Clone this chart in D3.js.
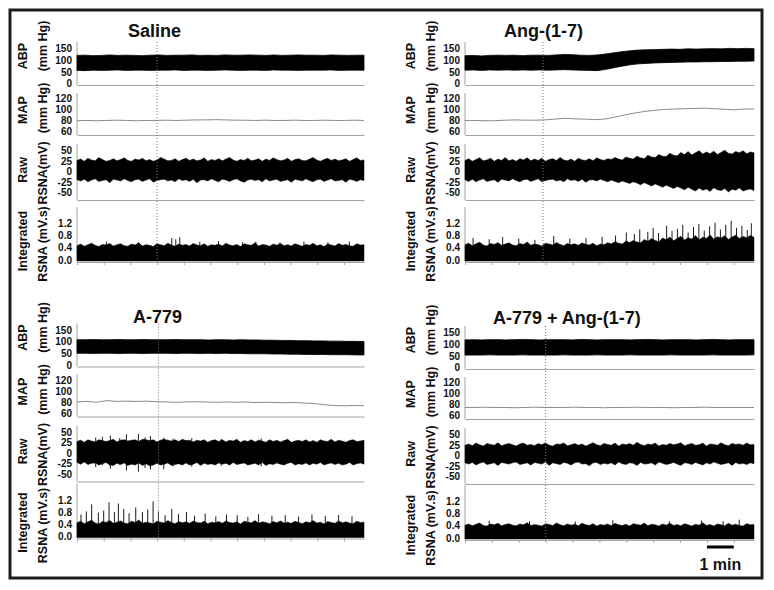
<!DOCTYPE html>
<html>
<head>
<meta charset="utf-8">
<script src="https://cdn.jsdelivr.net/npm/d3@7"></script>
<style>
  body { margin: 0; background: #fff; }
  text { font-family: "Liberation Sans", Arial, sans-serif; font-weight: bold; fill: #111; }
</style>
</head>
<body>
<svg id="fig" width="774" height="590"></svg>
<script>
// ---- data ----
// every trace is sampled evenly over the shown record length (minutes)
var recordMinutes = 10.75;
var panelTitles = ["Saline", "Ang-(1-7)", "A-779", "A-779 + Ang-(1-7)"];
var injectTimes = [3.0, 2.9, 3.05, 3.0];

var abpTicks = [0, 50, 100, 150];
var mapTicks = [60, 80, 100, 120];
var rawTicks = [-50, -25, 0, 25, 50];
var intTicks = [0.0, 0.4, 0.8, 1.2];

// ABP envelope: systolic (hi) and diastolic (lo), mm Hg
var salineAbpHi = [120,121,119,120,122,120,121,120,119,121,122,120,121,121,122,120,121,120,122,121,121,122,121,120,122,120,121,122,121,121,120,122,121,120,121,121];
var salineAbpLo = [56,55,57,56,57,58,56,57,57,56,57,57,58,56,57,57,56,57,58,57,56,57,57,56,58,57,57,56,57,57,57,58,56,57,57,57];
var angAbpHi = [119,120,118,120,121,120,121,119,121,121,120,122,124,123,121,120,122,126,131,136,140,143,144,145,146,147,146,148,147,148,149,148,150,149,150,149];
var angAbpLo = [57,58,56,58,57,58,57,58,57,58,57,58,59,58,57,56,55,60,67,74,80,84,86,88,89,90,91,92,92,93,93,94,94,95,95,96];
var a779AbpHi = [108,108,109,108,108,109,108,108,109,108,108,108,109,108,108,108,107,108,108,107,108,107,107,106,106,105,105,104,104,103,103,102,102,101,101,100];
var a779AbpLo = [50,50,49,50,50,49,50,50,49,50,50,50,49,50,50,49,50,49,50,49,49,48,48,48,47,47,46,46,45,45,45,44,44,44,43,43];
var comboAbpHi = [118,119,118,119,119,118,119,120,119,118,119,119,119,118,120,119,118,119,119,119,118,119,120,119,118,119,119,119,118,119,120,119,118,119,119,119];
var comboAbpLo = [53,53,53,54,53,53,53,54,53,53,53,53,54,53,53,53,54,53,53,53,54,53,53,53,53,54,53,53,53,53,54,53,53,53,53,54];

// MAP, mm Hg
var salineMap = [79.5,80,79.5,80,80.5,80,79.5,80,80,80.5,80,80.5,81,81,81.5,81,80.5,80.5,80,80.5,80,80,80.5,80,80,80.5,80,80,80.5,80];
var angMap = [80,80,79.5,79.5,80.5,81,80.5,80.5,81,82.5,84,83,82.5,81.5,82.5,86,90,93.5,96.5,98.5,100,101,101.5,102,102.5,101.5,100.5,99.5,101,101];
var a779Map = [80,81,79.5,82.5,81,81.5,81,81.5,80.5,80,79.5,80,80.5,80,79.5,80,79.5,80,79,79.5,79,78.5,79,78,77,75,73.5,73,73.5,73];
var comboMap = [74.5,74.5,75,74.5,74.5,74,74.5,75,74.5,74.5,74.5,75,74.5,74.5,74,74.5,74.5,75,74.5,74.5,74.5,74,74.5,74.5,75,74.5,74.5,74.5,74.5,74.5];

// raw RSNA envelope, mV
var salineRawHi = [26,29,24,31,27,25,33,28,24,26,30,25,28,32,26,24,29,27,31,25,28,24,27,33,29,25,26,30,24,28,31,26,29,25,27,32,24,28,26,30,25,29,33,27,24,28,26,31,25,27,30,24,29,26,32,28,25,27,31,24,28,30,26,25,29,33,27,24,28,31,26,29,25,27,30,24,28,32,26,27];
var salineRawLo = [-20,-23,-19,-25,-21,-18,-24,-22,-20,-27,-19,-21,-23,-18,-22,-25,-20,-19,-24,-21,-18,-26,-22,-20,-19,-23,-21,-25,-18,-22,-20,-24,-19,-27,-21,-20,-23,-18,-22,-25,-19,-21,-24,-20,-18,-23,-26,-21,-19,-22,-20,-25,-18,-23,-21,-19,-24,-22,-20,-26,-19,-21,-23,-18,-22,-25,-20,-19,-24,-21,-18,-23,-22,-20,-26,-19,-21,-24,-20,-22];
var angRawHi = [26,30,24,28,32,25,27,31,24,29,26,33,25,28,24,30,27,32,25,29,26,31,24,28,30,26,33,27,25,29,24,31,27,26,30,25,32,28,26,30,28,33,29,27,34,31,29,36,32,30,38,34,33,40,36,35,43,38,37,45,40,47,39,44,49,41,46,42,48,40,45,50,43,41,47,44,49,42,46,44];
var angRawLo = [-20,-24,-19,-25,-21,-18,-24,-22,-20,-26,-19,-21,-23,-18,-22,-25,-20,-19,-24,-21,-18,-25,-22,-20,-19,-23,-21,-25,-18,-22,-20,-24,-19,-26,-21,-20,-23,-19,-22,-25,-21,-24,-27,-23,-26,-29,-25,-28,-32,-27,-31,-35,-30,-34,-38,-33,-37,-41,-36,-40,-44,-38,-43,-47,-40,-45,-42,-48,-39,-44,-46,-41,-49,-43,-45,-40,-47,-44,-42,-46];
var a779RawHi = [27,30,25,31,28,26,31,29,27,29,32,26,30,31,28,30,31,27,32,31,29,31,26,30,32,30,28,31,27,32,29,30,26,30,28,31,25,29,31,27,31,26,30,28,32,25,29,27,31,26,30,28,25,31,27,30,26,29,32,25,28,30,27,31,26,29,25,31,28,27,32,26,30,28,25,29,31,27,28,30];
var a779RawLo = [-23,-27,-22,-28,-25,-24,-29,-26,-23,-29,-30,-25,-28,-24,-30,-27,-29,-24,-30,-26,-31,-29,-25,-29,-27,-24,-30,-28,-26,-29,-24,-29,-27,-23,-30,-25,-28,-26,-29,-24,-27,-25,-29,-23,-28,-26,-24,-29,-27,-25,-29,-23,-30,-26,-28,-24,-27,-29,-25,-23,-29,-26,-28,-24,-29,-25,-27,-23,-29,-26,-24,-28,-25,-29,-27,-23,-29,-26,-24,-27];
var comboRawHi = [24,27,23,29,25,22,28,26,24,30,23,26,28,25,22,27,29,24,26,23,28,25,30,24,22,27,26,29,23,25,28,24,27,22,26,30,25,23,28,26,24,29,22,27,25,28,24,31,26,23,27,25,29,22,26,24,28,25,27,30,23,26,28,24,25,29,22,27,26,24,30,25,23,28,26,27,24,29,25,26];
var comboRawLo = [-18,-21,-17,-23,-19,-16,-22,-20,-18,-24,-17,-19,-21,-18,-16,-22,-20,-18,-23,-17,-19,-21,-16,-24,-18,-20,-22,-17,-19,-23,-18,-16,-21,-20,-25,-18,-17,-22,-19,-21,-18,-23,-16,-20,-22,-18,-19,-24,-17,-21,-20,-18,-23,-16,-19,-22,-20,-17,-21,-24,-18,-19,-22,-17,-20,-23,-18,-21,-16,-19,-22,-20,-18,-24,-17,-21,-19,-22,-18,-20];

// single tall raw RSNA deflections (time, lowest, highest), mV
var a779RawSpikeT = [0.7, 0.95, 1.25, 1.6, 1.85, 2.3, 2.55, 2.75, 3.25, 3.6, 4.3, 5.4, 6.9];
var a779RawSpikeLo = [-34, -30, -38, -28, -42, -45, -36, -40, -39, -32, -33, -31, -32];
var a779RawSpikeHi = [36, 38, 41, 35, 44, 45, 37, 40, 36, 34, 35, 33, 34];

// integrated RSNA top of trace, mV.s, plus the tall single spikes
var salineInt = [0.47,0.52,0.45,0.50,0.55,0.48,0.44,0.51,0.49,0.54,0.46,0.50,0.53,0.47,0.45,0.52,0.49,0.56,0.46,0.50,0.48,0.44,0.53,0.50,0.47,0.55,0.49,0.45,0.52,0.48,0.51,0.46,0.54,0.49,0.47,0.53,0.45,0.50,0.48,0.52,0.46,0.55,0.49,0.47,0.51,0.44,0.53,0.50,0.48,0.56,0.46,0.51,0.49,0.45,0.52,0.48,0.54,0.47,0.50,0.46,0.53,0.49,0.45,0.51,0.48,0.55,0.47,0.50,0.44,0.52,0.49,0.46,0.54,0.48,0.51,0.47,0.45,0.53,0.49,0.50];
var angInt = [0.50,0.55,0.47,0.53,0.58,0.49,0.46,0.54,0.51,0.57,0.48,0.52,0.56,0.49,0.47,0.54,0.51,0.59,0.48,0.52,0.50,0.46,0.55,0.52,0.49,0.57,0.51,0.47,0.54,0.50,0.53,0.48,0.56,0.51,0.49,0.55,0.47,0.52,0.50,0.56,0.53,0.60,0.55,0.52,0.62,0.57,0.64,0.59,0.56,0.67,0.61,0.70,0.64,0.60,0.72,0.66,0.75,0.63,0.70,0.78,0.65,0.73,0.69,0.80,0.66,0.74,0.71,0.82,0.68,0.76,0.72,0.79,0.67,0.75,0.81,0.70,0.77,0.73,0.80,0.74];
var a779Int = [0.45,0.50,0.42,0.48,0.53,0.44,0.41,0.49,0.46,0.52,0.43,0.47,0.51,0.44,0.42,0.50,0.46,0.54,0.43,0.47,0.45,0.41,0.50,0.47,0.44,0.52,0.46,0.42,0.49,0.45,0.48,0.43,0.51,0.46,0.44,0.50,0.42,0.47,0.45,0.49,0.43,0.51,0.46,0.44,0.48,0.41,0.50,0.47,0.45,0.52,0.43,0.48,0.46,0.42,0.49,0.45,0.51,0.44,0.47,0.43,0.50,0.46,0.42,0.48,0.45,0.52,0.44,0.47,0.41,0.49,0.46,0.43,0.51,0.45,0.48,0.44,0.42,0.50,0.46,0.47];
var comboInt = [0.42,0.46,0.40,0.45,0.49,0.41,0.39,0.46,0.43,0.48,0.40,0.44,0.47,0.42,0.40,0.46,0.43,0.50,0.41,0.44,0.42,0.39,0.47,0.44,0.41,0.49,0.43,0.40,0.46,0.42,0.45,0.40,0.48,0.43,0.41,0.47,0.39,0.44,0.42,0.46,0.40,0.48,0.43,0.41,0.45,0.39,0.47,0.44,0.42,0.49,0.40,0.45,0.43,0.39,0.46,0.42,0.48,0.41,0.44,0.40,0.47,0.43,0.39,0.45,0.42,0.50,0.41,0.44,0.39,0.46,0.43,0.40,0.48,0.42,0.45,0.41,0.39,0.47,0.43,0.44];

var salineSpikeT = [1.1, 2.3, 3.55, 3.7, 3.85, 4.6, 5.3, 6.2, 6.7, 7.6, 8.5, 9.4, 10.2];
var salineSpikeV = [0.6, 0.58, 0.72, 0.68, 0.74, 0.6, 0.62, 0.58, 0.6, 0.57, 0.6, 0.58, 0.6];
var angSpikeT = [0.3, 0.9, 1.4, 2.0, 2.6, 3.3, 3.9, 4.5, 5.1, 5.6, 6.0, 6.3, 6.5, 6.8, 7.0, 7.2, 7.5, 7.7, 7.9, 8.1, 8.3, 8.5, 8.7, 8.9, 9.1, 9.3, 9.5, 9.7, 9.9, 10.1, 10.3, 10.5, 10.65];
var angSpikeV = [0.72, 0.68, 0.75, 0.70, 0.66, 0.78, 0.7, 0.72, 0.76, 0.8, 0.9, 0.85, 1.0, 0.92, 1.05, 0.88, 1.12, 0.95, 1.02, 1.15, 0.9, 1.08, 1.18, 0.96, 1.1, 1.22, 1.0, 1.15, 1.28, 1.05, 1.12, 0.98, 1.2];
var a779SpikeT = [0.15, 0.35, 0.55, 0.8, 1.0, 1.2, 1.4, 1.55, 1.75, 1.95, 2.2, 2.45, 2.65, 2.85, 3.05, 3.3, 3.55, 3.8, 4.1, 4.4, 4.8, 5.2, 5.6, 6.0, 6.4, 6.8, 7.3, 7.8, 8.3, 8.8, 9.3, 9.8, 10.3];
var a779SpikeV = [0.72, 0.82, 1.05, 0.78, 0.85, 1.12, 0.8, 1.08, 0.9, 0.76, 0.95, 0.8, 0.88, 1.15, 0.82, 0.7, 0.9, 0.74, 0.8, 0.68, 0.75, 0.66, 0.72, 0.7, 0.64, 0.73, 0.68, 0.7, 0.65, 0.72, 0.67, 0.7, 0.66];
var comboSpikeT = [0.9, 2.4, 4.1, 5.5, 7.6, 8.8, 9.6, 10.2];
var comboSpikeV = [0.56, 0.55, 0.54, 0.58, 0.55, 0.57, 0.55, 0.6];

// ---- layout ----
var svg = d3.select("#fig");

var panels = [
  { title: panelTitles[0], titleX: 128, titleY: 37, x0: 77, x1: 364, yOff: 0, intShift: 0, inject: injectTimes[0],
    abpHi: salineAbpHi, abpLo: salineAbpLo, map: salineMap, rawHi: salineRawHi, rawLo: salineRawLo, int: salineInt, spikeT: salineSpikeT, spikeV: salineSpikeV },
  { title: panelTitles[1], titleX: 504, titleY: 37, x0: 465, x1: 754, yOff: 0, intShift: 0, inject: injectTimes[1],
    abpHi: angAbpHi, abpLo: angAbpLo, map: angMap, rawHi: angRawHi, rawLo: angRawLo, int: angInt, spikeT: angSpikeT, spikeV: angSpikeV },
  { title: panelTitles[2], titleX: 133, titleY: 323, x0: 77, x1: 364, yOff: 281.5, intShift: -5, inject: injectTimes[2],
    abpHi: a779AbpHi, abpLo: a779AbpLo, map: a779Map, rawHi: a779RawHi, rawLo: a779RawLo, int: a779Int, spikeT: a779SpikeT, spikeV: a779SpikeV,
    rawSpikeT: a779RawSpikeT, rawSpikeLo: a779RawSpikeLo, rawSpikeHi: a779RawSpikeHi },
  { title: panelTitles[3], titleX: 493, titleY: 324, x0: 465, x1: 754, yOff: 284, intShift: -6, inject: injectTimes[3],
    abpHi: comboAbpHi, abpLo: comboAbpLo, map: comboMap, rawHi: comboRawHi, rawLo: comboRawLo, int: comboInt, spikeT: comboSpikeT, spikeV: comboSpikeV,
    scaleBar: true }
];

// vertical placement of the four traces inside a panel (pixels from panel top)
var traces = {
  abp: { domain: [0, 150], range: [83.5, 48.4], top: 42, base: 85, ticks: abpTicks, name: "ABP", unit: "(mm Hg)", nameY: 56, unitY: 46 },
  map: { domain: [60, 120], range: [131.4, 98.6], top: 93, base: 135, ticks: mapTicks, name: "MAP", unit: "(mm Hg)", nameY: 110, unitY: 108 },
  raw: { domain: [-50, 50], range: [192.3, 150.3], top: 144, base: 200, ticks: rawTicks, name: "Raw", unit: "RSNA(mV)", nameY: 170, unitY: 173 },
  int: { domain: [0, 1.2], range: [260, 223.3], top: 207, base: 262, ticks: intTicks, name: "Integrated", unit: "RSNA (mV.s)", nameY: 241, unitY: 244 }
};

svg.append("rect")
  .attr("x", 10).attr("y", 10)
  .attr("width", 752).attr("height", 568)
  .attr("fill", "none").attr("stroke", "#1c1c1c").attr("stroke-width", 3);

panels.forEach(drawPanel);

function timed(values) {
  return values.map(function (v, i) { return { t: i * recordMinutes / (values.length - 1), v: v }; });
}

function band(hi, lo) {
  return hi.map(function (h, i) { return { t: i * recordMinutes / (hi.length - 1), hi: h, lo: lo[i] }; });
}

function drawPanel(p) {
  var g = svg.append("g").attr("transform", "translate(0," + p.yOff + ")");
  var x = d3.scaleLinear().domain([0, recordMinutes]).range([p.x0, p.x1]);

  var scales = {};
  Object.keys(traces).forEach(function (key) {
    var tr = traces[key];
    var shift = key === "int" ? p.intShift : 0;
    var y = d3.scaleLinear().domain(tr.domain).range([tr.range[0] + shift, tr.range[1] + shift]);
    scales[key] = y;

    // left axis line (gray)
    g.append("line")
      .attr("x1", p.x0).attr("x2", p.x0)
      .attr("y1", tr.top + shift).attr("y2", tr.base + shift)
      .attr("stroke", "#a3a3a3").attr("stroke-width", 1);

    // tick labels
    var yAxis = d3.axisLeft(y).tickValues(tr.ticks).tickSize(0).tickPadding(5)
      .tickFormat(key === "int" ? d3.format(".1f") : function (d) { return String(d); });
    var ya = g.append("g").attr("transform", "translate(" + p.x0 + ",0)").call(yAxis);
    ya.select(".domain").remove();
    ya.selectAll("text").attr("font-size", 10).attr("fill", "#111")
      .style("font-family", "'Liberation Sans', Arial, sans-serif").style("font-weight", "bold");

    // baseline (gray), with minute ticks under the integrated trace
    var xAxis = d3.axisBottom(x).tickValues(d3.range(0, 11)).tickSizeOuter(0)
      .tickSizeInner(key === "int" ? 3 : 0).tickFormat("");
    var xa = g.append("g").attr("transform", "translate(0," + (tr.base + shift) + ")").call(xAxis);
    xa.select(".domain").attr("stroke", "#a3a3a3");
    xa.selectAll(".tick line").attr("stroke", "#a3a3a3");

    // rotated trace name and unit
    var lx1 = p.x0 - 55, lx2 = p.x0 - 35;
    g.append("text")
      .attr("transform", "translate(" + lx1 + "," + tr.nameY + ") rotate(-90)")
      .attr("text-anchor", "middle").attr("dy", "0.36em")
      .attr("font-size", 12.5).text(tr.name);
    g.append("text")
      .attr("transform", "translate(" + lx2 + "," + tr.unitY + ") rotate(-90)")
      .attr("text-anchor", "middle").attr("dy", "0.36em")
      .attr("font-size", 12.5).text(tr.unit);
  });

  // ABP band
  g.append("path")
    .datum(band(p.abpHi, p.abpLo))
    .attr("fill", "#000").attr("stroke", "#000").attr("stroke-width", 0.8)
    .attr("d", d3.area()
      .x(function (d) { return x(d.t); })
      .y0(function (d) { return scales.abp(d.lo); })
      .y1(function (d) { return scales.abp(d.hi); }));

  // MAP line
  g.append("path")
    .datum(timed(p.map))
    .attr("fill", "none").attr("stroke", "#8a8a8a").attr("stroke-width", 1)
    .attr("d", d3.line()
      .x(function (d) { return x(d.t); })
      .y(function (d) { return scales.map(d.v); }));

  // raw RSNA: thin single deflections, then the band
  if (p.rawSpikeT) {
    g.selectAll(".raw-spike")
      .data(p.rawSpikeT.map(function (t, i) { return { t: t, lo: p.rawSpikeLo[i], hi: p.rawSpikeHi[i] }; }))
      .enter().append("line")
      .attr("class", "raw-spike")
      .attr("x1", function (d) { return x(d.t); })
      .attr("x2", function (d) { return x(d.t); })
      .attr("y1", function (d) { return scales.raw(d.lo); })
      .attr("y2", function (d) { return scales.raw(d.hi); })
      .attr("stroke", "#000").attr("stroke-width", 0.9);
  }

  g.append("path")
    .datum(band(p.rawHi, p.rawLo))
    .attr("fill", "#000").attr("stroke", "#000").attr("stroke-width", 0.5)
    .attr("d", d3.area()
      .x(function (d) { return x(d.t); })
      .y0(function (d) { return scales.raw(d.lo); })
      .y1(function (d) { return scales.raw(d.hi); }));

  // integrated RSNA: spikes first, then the dense trace on top of them
  var intBase = traces.int.base + p.intShift - 1;
  g.selectAll(".spike")
    .data(p.spikeT.map(function (t, i) { return { t: t, v: p.spikeV[i] }; }))
    .enter().append("line")
    .attr("class", "spike")
    .attr("x1", function (d) { return x(d.t); })
    .attr("x2", function (d) { return x(d.t); })
    .attr("y1", scales.int(0.3))
    .attr("y2", function (d) { return scales.int(d.v); })
    .attr("stroke", "#000").attr("stroke-width", 0.9);

  g.append("path")
    .datum(timed(p.int))
    .attr("fill", "#000").attr("stroke", "#000").attr("stroke-width", 0.5)
    .attr("d", d3.area()
      .x(function (d) { return x(d.t); })
      .y0(intBase)
      .y1(function (d) { return scales.int(d.v); }));

  // injection marker
  g.append("line")
    .attr("x1", x(p.inject)).attr("x2", x(p.inject))
    .attr("y1", traces.abp.top).attr("y2", traces.int.base + p.intShift)
    .attr("stroke", "#777").attr("stroke-width", 1).attr("stroke-dasharray", "1,2");

  // title
  g.append("text")
    .attr("x", p.titleX).attr("y", p.titleY - p.yOff)
    .attr("font-size", 18).text(p.title);

  if (p.scaleBar) {
    g.append("line")
      .attr("x1", x(9)).attr("x2", x(10))
      .attr("y1", 547 - p.yOff).attr("y2", 547 - p.yOff)
      .attr("stroke", "#000").attr("stroke-width", 3);
    g.append("text")
      .attr("x", (x(9) + x(10)) / 2).attr("y", 570 - p.yOff)
      .attr("text-anchor", "middle").attr("font-size", 16).text("1 min");
  }
}
</script>
</body>
</html>
